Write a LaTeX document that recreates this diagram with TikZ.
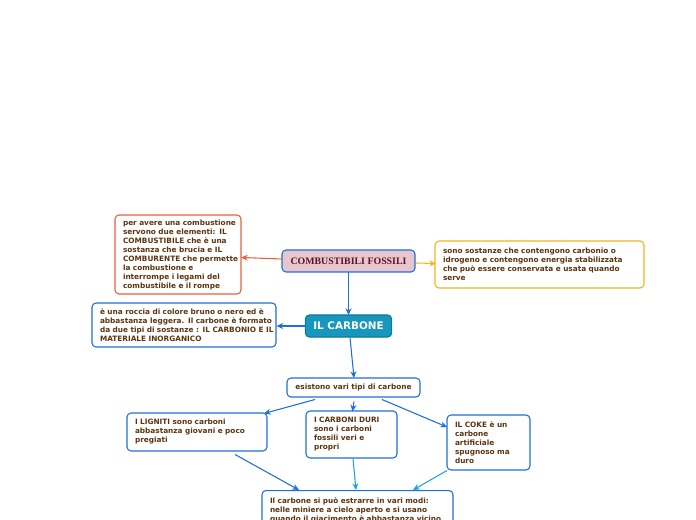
\documentclass[tikz,border=0pt]{standalone}
\usepackage{fontspec}
\setmainfont{DejaVu Sans}
\newfontfamily\rootfont{Liberation Serif}
\usetikzlibrary{arrows.meta}
\definecolor{txt}{HTML}{5C3510}
\definecolor{bblue}{HTML}{1E6FD9}
\definecolor{bred}{HTML}{E8603C}
\definecolor{byel}{HTML}{F2B51C}
\definecolor{bcyan}{HTML}{1BA6E0}
\definecolor{rootfill}{HTML}{E8C6CD}
\definecolor{rootxt}{HTML}{5A1428}
\definecolor{carfill}{HTML}{1796BE}
\newcommand\Lx[1]{\mbox{#1}\\}
\newcommand\Ll[1]{\mbox{#1}}
\tikzset{
  box/.style={draw=bblue, line width=0.8pt, rounded corners=3pt, fill=white,
    font=\bfseries\fontsize{5.5}{6.75}\selectfont, text=txt, align=left,
    inner xsep=6pt, inner ysep=3pt},
  conn/.style={draw=bblue, line width=0.8pt, -{Stealth[length=5pt,width=4.5pt]}},
}
\begin{document}
\begin{tikzpicture}[x=0.75pt,y=-0.75pt]
\useasboundingbox (0,0) rectangle (696,520);
\clip (0,0) rectangle (696,520);
\fill[white] (0,0) rectangle (696,520);

\node[box, fill=rootfill, minimum width=99.75pt, minimum height=16.5pt,
  font=\rootfont\bfseries\fontsize{7.4}{8.5}\selectfont, text=rootxt, align=center] (root) at (348.5,261) {COMBUSTIBILI FOSSILI};

\node[box, draw=bred, minimum width=94.5pt, minimum height=59.25pt, text width=82.5pt] (a) at (178,254.5)
 {\Lx{per avere una combustione}\Lx{servono due elementi: IL}\Lx{COMBUSTIBILE che è una}\Lx{sostanza che brucia e IL}\Lx{COMBURENTE che permette}\Lx{la combustione e}\Lx{interrompe i legami del}\Ll{combustibile e il rompe}};

\node[box, draw=byel, minimum width=156.75pt, minimum height=35.25pt, text width=144.75pt] (c) at (539.5,264.5)
 {\Lx{sono sostanze che contengono carbonio o}\Lx{idrogeno e contengono energia stabilizzata}\Lx{che può essere conservata e usata quando}\Ll{serve}};

\node[box, minimum width=138pt, minimum height=33pt, text width=126pt] (d) at (184,325)
 {\Lx{è una roccia di colore bruno o nero ed è}\Lx{abbastanza leggera. Il carbone è formato}\Lx{da due tipi di sostanze : IL CARBONIO E IL}\Ll{MATERIALE INORGANICO}};

\node[box, fill=carfill, draw=carfill!80!black, minimum width=63.75pt, minimum height=16.5pt,
  font=\bfseries\fontsize{7.8}{9}\selectfont, text=white, align=center] (car) at (348.5,326) {IL CARBONE};

\node[box, minimum width=99.75pt, minimum height=14.25pt, align=center] (es) at (353.5,387.5) {esistono vari tipi di carbone};

\node[box, minimum width=105pt, minimum height=28.5pt, text width=93pt] (lig) at (197,432)
 {\Lx{I LIGNITI sono carboni}\Lx{abbastanza giovani e poco}\Ll{pregiati}};

\node[box, minimum width=68.25pt, minimum height=35.25pt, text width=56.25pt] (duri) at (351.5,434.5)
 {\Lx{I CARBONI DURI}\Lx{sono i carboni}\Lx{fossili veri e}\Ll{propri}};

\node[box, minimum width=62.25pt, minimum height=41.25pt, text width=50.25pt] (coke) at (488.5,442.5)
 {\Lx{IL COKE è un}\Lx{carbone}\Lx{artificiale}\Lx{spugnoso ma}\Ll{duro}};

\node[box, anchor=north, minimum width=143.25pt, text width=131.25pt, inner ysep=5pt] (bot) at (357.5,490)
 {\Lx{Il carbone si può estrarre in vari modi:}\Lx{nelle miniere a cielo aperto e si usano}\Lx{quando il giacimento è abbastanza vicino}\Ll{alla superficie}};

\coordinate (r1) at (282,259); \coordinate (a1) at (241,257.5);
\coordinate (r2) at (416,263); \coordinate (c1) at (436,263.5);
\coordinate (r3) at (348.5,272.5); \coordinate (k1) at (348.5,315);
\coordinate (k2) at (306,326); \coordinate (d1) at (276.5,326);
\coordinate (k3) at (350,337.5); \coordinate (e1) at (354,378);
\coordinate (e2) at (315,399.5); \coordinate (l1) at (264,413.5);
\coordinate (e3) at (354,401.5); \coordinate (u1) at (352.5,411.5);
\coordinate (e4) at (382,399.5); \coordinate (o1) at (447,427);
\coordinate (l2) at (235,454.5); \coordinate (b1) at (299,490);
\coordinate (u2) at (353,458.5); \coordinate (b2) at (356,490);
\coordinate (o2) at (447,470.5); \coordinate (b3) at (413,490);

\draw[conn, draw=bred, -{Stealth[length=5pt,width=4.5pt,fill=bred]}] (r1) -- (a1);
\draw[conn, draw=byel] (r2) -- (c1);
\draw[conn] (r3) -- (k1);
\draw[conn] (k2) -- (d1);
\draw[conn] (k3) -- (e1);
\draw[conn] (e2) -- (l1);
\draw[conn] (e3) -- (u1);
\draw[conn] (e4) -- (o1);
\draw[conn] (l2) -- (b1);
\draw[conn, draw=bcyan] (u2) -- (b2);
\draw[conn, draw=bcyan] (o2) -- (b3);
\end{tikzpicture}
\end{document}
